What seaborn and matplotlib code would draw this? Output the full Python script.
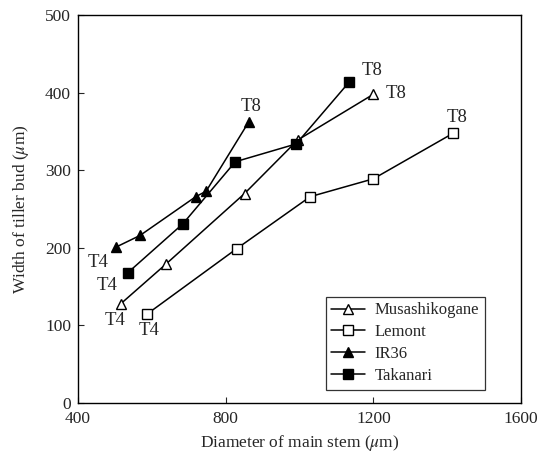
import matplotlib
matplotlib.use("Agg")
import matplotlib.pyplot as plt
import seaborn as sns
import pandas as pd

# ---- data ----
musashi_x = [516, 638, 851, 995, 1200]
musashi_y = [128, 179, 270, 339, 398]
lemont_x = [588, 830, 1029, 1200, 1417]
lemont_y = [115, 199, 266, 289, 348]
ir36_x = [503, 568, 719, 747, 862]
ir36_y = [201, 216, 266, 273, 362]
takanari_x = [535, 684, 826, 991, 1135]
takanari_y = [168, 231, 311, 334, 414]

series_names = ["Musashikogane", "Lemont", "IR36", "Takanari"]
x_ticks = [400, 800, 1200, 1600]
y_ticks = [0, 100, 200, 300, 400, 500]

sns.set_style("ticks")
plt.rcParams["font.family"] = ["Liberation Serif", "DejaVu Serif"]
plt.rcParams["mathtext.fontset"] = "stix"

fig = plt.figure(figsize=(5.51, 4.59), dpi=100)
ax = fig.add_axes([0.1416, 0.122, 0.8040, 0.845])

styles = {
    "Musashikogane": dict(marker="^", markerfacecolor="white"),
    "Lemont": dict(marker="s", markerfacecolor="white"),
    "IR36": dict(marker="^", markerfacecolor="black"),
    "Takanari": dict(marker="s", markerfacecolor="black"),
}
data = {
    "Musashikogane": (musashi_x, musashi_y),
    "Lemont": (lemont_x, lemont_y),
    "IR36": (ir36_x, ir36_y),
    "Takanari": (takanari_x, takanari_y),
}

for name in series_names:
    xs, ys = data[name]
    df = pd.DataFrame({"x": xs, "y": ys})
    st = styles[name]
    ms = 7 if st["marker"] == "^" else 6.5
    sns.lineplot(data=df, x="x", y="y", ax=ax, sort=False, estimator=None,
                 color="black", linewidth=1.1, marker=st["marker"],
                 markersize=ms, markerfacecolor=st["markerfacecolor"],
                 markeredgecolor="black", markeredgewidth=1.0, label=name)

# T4 / T8 labels attached to first / last points
t4_offsets = {"Musashikogane": (-4, -12), "Lemont": (1.5, -12),
              "IR36": (-13, -11), "Takanari": (-15, -9)}
t8_offsets = {"Musashikogane": (16, 0.5), "Lemont": (2.5, 11.5),
              "IR36": (2, 11.5), "Takanari": (16, 8.5)}
for name in series_names:
    xs, ys = data[name]
    ax.annotate("T4", (xs[0], ys[0]), xytext=t4_offsets[name],
                textcoords="offset points", ha="center", va="center",
                fontsize=13.5)
    ax.annotate("T8", (xs[-1], ys[-1]), xytext=t8_offsets[name],
                textcoords="offset points", ha="center", va="center",
                fontsize=13.5)

ax.set_xlim(400, 1600)
ax.set_ylim(0, 500)
ax.set_xticks(x_ticks)
ax.set_yticks(y_ticks)
ax.tick_params(direction="in", length=4, width=0.8, labelsize=12.5)
ax.tick_params(axis="x", pad=6)
ax.tick_params(axis="y", pad=5)
for sp in ax.spines.values():
    sp.set_linewidth(1.0)
    sp.set_color("black")

ax.set_xlabel(r"Diameter of main stem ($\mu$m)", fontsize=12.5, labelpad=4)
ax.set_ylabel(r"Width of tiller bud ($\mu$m)", fontsize=12.5, labelpad=10)

leg = ax.legend(loc="lower right", bbox_to_anchor=(0.919, 0.034),
                borderaxespad=0, fancybox=False, frameon=True,
                edgecolor="black", fontsize=12, labelspacing=0.35,
                handlelength=2.0, handletextpad=0.6, borderpad=0.35)
leg.get_frame().set_linewidth(0.9)

fig.savefig("out.png", dpi=100)
